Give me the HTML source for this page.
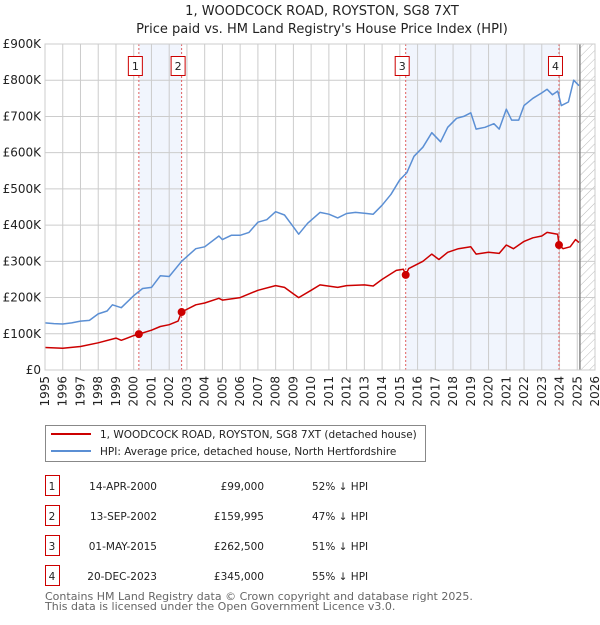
<!DOCTYPE html>
<html><head><meta charset="utf-8"><style>
body{margin:0;background:#fff;font-family:"Liberation Sans","DejaVu Sans",sans-serif;}
svg text{font-family:"DejaVu Sans","Liberation Sans",sans-serif;}
</style></head><body>
<svg id="c" width="600" height="620" xmlns="http://www.w3.org/2000/svg">
<text x="322" y="15" text-anchor="middle" font-size="13" fill="#222">1, WOODCOCK ROAD, ROYSTON, SG8 7XT</text>
<text x="322" y="33" text-anchor="middle" font-size="13" fill="#222">Price paid vs. HM Land Registry's House Price Index (HPI)</text>
<defs><pattern id="hatch" width="6" height="6" patternUnits="userSpaceOnUse" patternTransform="rotate(45)"><line x1="0" y1="0" x2="0" y2="6" stroke="#bbb" stroke-width="1"/></pattern></defs>
<g id="plot"></g>
<g>
<rect x="45.5" y="425.5" width="380" height="36" fill="#fff" stroke="#888"/>
<line x1="51" y1="434" x2="91" y2="434" stroke="#cc0000" stroke-width="2"/>
<text x="100" y="438" font-size="10.5" fill="#222">1, WOODCOCK ROAD, ROYSTON, SG8 7XT (detached house)</text>
<line x1="51" y1="451" x2="91" y2="451" stroke="#5b8fd4" stroke-width="2"/>
<text x="100" y="455" font-size="10.5" fill="#222">HPI: Average price, detached house, North Hertfordshire</text>
</g>
<g id="table" font-size="10.5" fill="#222"></g>
<text x="45" y="600" font-size="11" fill="#666">Contains HM Land Registry data © Crown copyright and database right 2025.</text>
<text x="45" y="610" font-size="11" fill="#666">This data is licensed under the Open Government Licence v3.0.</text>
</svg>
<script>
const hpiYears=[1995,1995.5,1996,1996.5,1997,1997.5,1998,1998.5,1998.8,1999.3,2000,2000.5,2001,2001.5,2002,2002.7,2003.5,2004,2004.8,2005,2005.5,2006,2006.5,2007,2007.5,2008,2008.5,2009,2009.3,2009.8,2010.5,2011,2011.5,2012,2012.5,2013,2013.5,2014,2014.5,2015,2015.4,2015.8,2016.3,2016.8,2017.3,2017.7,2018.2,2018.6,2019,2019.3,2019.8,2020.3,2020.6,2021,2021.3,2021.7,2022,2022.5,2023,2023.3,2023.6,2023.9,2024.1,2024.5,2024.8,2025.1];
const hpiValues=[130,128,127,130,135,137,155,163,180,172,205,225,228,260,258,300,335,340,370,360,372,372,380,408,415,437,428,395,375,405,435,430,420,432,435,433,430,455,485,525,545,590,615,655,630,670,695,700,710,665,670,680,665,720,690,690,730,750,765,775,760,770,730,740,800,785];
const priceYears=[1995,1996,1997,1998,1999,1999.3,2000,2000.29,2001,2001.5,2002,2002.5,2002.7,2003.5,2004,2004.8,2005,2006,2007,2008,2008.5,2009,2009.3,2010,2010.5,2011.5,2012,2013,2013.5,2014,2014.8,2015.2,2015.33,2015.5,2016.3,2016.8,2017.2,2017.7,2018.3,2019,2019.3,2020,2020.6,2021,2021.4,2022,2022.5,2023,2023.3,2023.9,2023.97,2024.2,2024.6,2024.9,2025.1];
const priceValues=[62,60,65,75,88,82,95,99,110,120,125,135,160,180,185,198,193,200,220,233,228,210,200,220,235,228,233,235,232,250,275,278,262.5,280,300,320,305,325,335,340,320,325,322,345,335,355,365,370,380,375,345,335,340,360,352];
const saleYears=[2000.29,2002.7,2015.33,2023.97];
const saleValues=[99,159.995,262.5,345];
const saleLabels=["1","2","3","4"];
const saleDates=["14-APR-2000","13-SEP-2002","01-MAY-2015","20-DEC-2023"];
const salePrices=["£99,000","£159,995","£262,500","£345,000"];
const saleDiffs=["52% ↓ HPI","47% ↓ HPI","51% ↓ HPI","55% ↓ HPI"];
const yTicks=[0,100,200,300,400,500,600,700,800,900];
const yTickLabels=["£0","£100K","£200K","£300K","£400K","£500K","£600K","£700K","£800K","£900K"];
const xTicks=[1995,1996,1997,1998,1999,2000,2001,2002,2003,2004,2005,2006,2007,2008,2009,2010,2011,2012,2013,2014,2015,2016,2017,2018,2019,2020,2021,2022,2023,2024,2025,2026];
const dataEnd=2025.15;

const X0=45,X1=595,Y0=370,Y1=44;
const xs=y=>X0+(y-1995)/(2026-1995)*(X1-X0);
const ys=v=>Y0-v/900*(Y0-Y1);
const NS="http://www.w3.org/2000/svg";
const plot=document.getElementById('plot');
function mk(tag,attrs,parent){const e=document.createElementNS(NS,tag);for(const k in attrs)e.setAttribute(k,attrs[k]);(parent||plot).appendChild(e);return e;}

for(let i=0;i<saleYears.length;i+=2){
  const r=mk('rect',{x:xs(saleYears[i]),y:Y1,width:xs(saleYears[i+1])-xs(saleYears[i]),height:Y0-Y1,fill:'#f1f5fd'});
  
  
}
const h=mk('rect',{x:xs(dataEnd),y:Y1,width:X1-xs(dataEnd),height:Y0-Y1,fill:'url(#hatch)'});


yTicks.forEach((t,i)=>{
  const l=mk('line',{x1:X0,x2:X1,y1:ys(t),y2:ys(t),stroke:'#ccc','stroke-width':1});
  
  
  const tx=mk('text',{x:X0-4,y:ys(t)+4,'text-anchor':'end','font-size':12,fill:'#222'});
  tx.textContent=yTickLabels[i];
  
  
});
xTicks.forEach(t=>{
  const l=mk('line',{x1:xs(t),x2:xs(t),y1:Y1,y2:Y0,stroke:'#ccc','stroke-width':1});
  
  
  const tx=mk('text',{x:0,y:0,'text-anchor':'end','font-size':12,fill:'#222',transform:`translate(${xs(t)+4},${Y0+6}) rotate(-90)`});
  tx.textContent=t;
  
  
});
const el=mk('line',{x1:xs(dataEnd),x2:xs(dataEnd),y1:Y1,y2:Y0,stroke:'#888','stroke-width':1.5});


saleYears.forEach((y,i)=>{
  const l=mk('line',{x1:xs(y),x2:xs(y),y1:Y1,y2:Y0,stroke:'#e06060','stroke-width':1,'stroke-dasharray':'2,2'});
  
  
  const b=mk('rect',{x:xs(y)-10.5,y:56.5,width:14,height:19,fill:'#fff',stroke:'#cc0000'});
  
  
  const t=mk('text',{x:xs(y)-3.5,y:70,'text-anchor':'middle','font-size':11,fill:'#222'});
  t.textContent=saleLabels[i];
  
  
});
const line=(xa,va,color,name)=>{
  const p=mk('path',{d:xa.map((x,i)=>(i?'L':'M')+xs(x).toFixed(1)+','+ys(va[i]).toFixed(1)).join(''),fill:'none',stroke:color,'stroke-width':1.5,'stroke-linejoin':'round'});
  
  
};
line(hpiYears,hpiValues,'#5b8fd4','hpi-line');
line(priceYears,priceValues,'#cc0000','price-line');
saleYears.forEach((y,i)=>{
  const c=mk('circle',{cx:xs(y),cy:ys(saleValues[i]),r:4,fill:'#cc0000'});
  
  
});
const ax=mk('rect',{x:X0,y:Y1,width:X1-X0,height:Y0-Y1,fill:'none',stroke:'#ccc'});


const tb=document.getElementById('table');
saleLabels.forEach((s,i)=>{
  const y=482+i*30;
  const b=mk('rect',{x:45.5,y:y-6.5,width:14,height:20,fill:'#fff',stroke:'#cc0000'},tb);
  
  
  const cells=[[52,s,'middle'],[157,saleDates[i],'end'],[264,salePrices[i],'end'],[312,saleDiffs[i],'start']];
  cells.forEach(c=>{
    const t=mk('text',{x:c[0],y:y+8,'text-anchor':c[2]},tb);
    t.textContent=c[1];
    
    
  });
});
</script>
</body></html>
